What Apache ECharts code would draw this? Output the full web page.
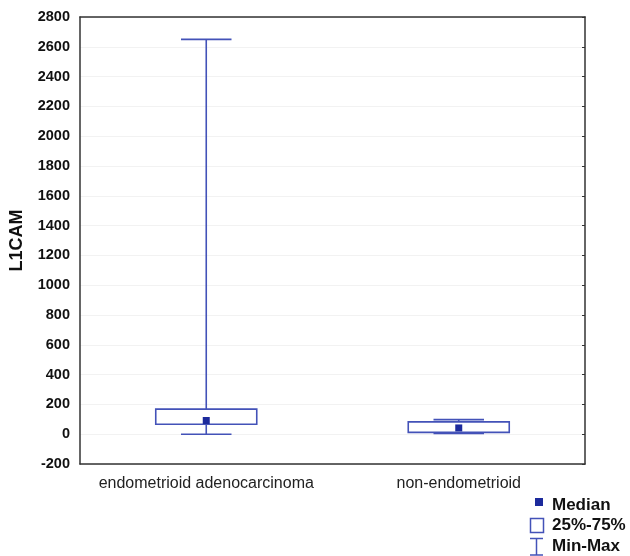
<!DOCTYPE html>
<html>
<head>
<meta charset="utf-8">
<script src="https://cdn.jsdelivr.net/npm/echarts@6/dist/echarts.min.js"></script>
<style>
    html, body { margin: 0; padding: 0; background: #fff; }
    #chart { width: 630px; height: 556px; }
</style>
</head>
<body>
<div id="chart"></div>
<script>
// values
const groups = ['endometrioid adenocarcinoma', 'non-endometrioid'];
const minVals = [0, 5];
const q1Vals = [67, 12];
const medianVals = [92, 42];
const q3Vals = [168, 83];
const maxVals = [2650, 98];

const lineColor = '#4352b8';
const medianColor = '#1c2a9c';
const frameColor = '#333';
const font = '"Liberation Sans", Arial, sans-serif';

let boxData = groups.map(function (g, i) {
    return [i, minVals[i], q1Vals[i], medianVals[i], q3Vals[i], maxVals[i]];
});
let medianData = groups.map(function (g, i) {
    return [i, medianVals[i]];
});

const renderBox = function (params, api) {
    const idx = api.value(0);
    const pMin = api.coord([idx, api.value(1)]);
    const pQ1 = api.coord([idx, api.value(2)]);
    const pQ3 = api.coord([idx, api.value(4)]);
    const pMax = api.coord([idx, api.value(5)]);
    const band = api.size([1, 0])[0];
    const halfBox = band * 0.2;
    const halfCap = band * 0.1;
    const x = pMin[0];
    const style = { stroke: lineColor, lineWidth: 1.6, fill: null };
    return {
        type: 'group',
        children: [
            { type: 'line', shape: { x1: x, y1: pMax[1], x2: x, y2: pQ3[1] }, style: style },
            { type: 'line', shape: { x1: x, y1: pQ1[1], x2: x, y2: pMin[1] }, style: style },
            { type: 'line', shape: { x1: x - halfCap, y1: pMax[1], x2: x + halfCap, y2: pMax[1] }, style: style },
            { type: 'line', shape: { x1: x - halfCap, y1: pMin[1], x2: x + halfCap, y2: pMin[1] }, style: style },
            { type: 'rect', shape: { x: x - halfBox, y: pQ3[1], width: halfBox * 2, height: pQ1[1] - pQ3[1] },
              style: { stroke: lineColor, lineWidth: 1.6, fill: 'rgba(255,255,255,0)' } }
        ]
    };
};

const legendText = function (label, y) {
    return {
        type: 'text',
        style: { x: 552, y: y, text: label, fill: '#111', font: 'bold 17px ' + font, verticalAlign: 'middle' }
    };
};

let chart = echarts.init(document.getElementById('chart'));
chart.setOption({
    animation: false,
    backgroundColor: '#fff',
    grid: { left: 79, right: 45, top: 17, bottom: 92 },
    xAxis: [{
        type: 'category',
        data: groups,
        axisLine: { onZero: false, lineStyle: { color: frameColor, width: 1.5 } },
        axisTick: { inside: true, alignWithLabel: true, length: 3, lineStyle: { color: frameColor } },
        axisLabel: { interval: 0, color: '#222', fontSize: 16, fontFamily: font, margin: 12 }
    }, {
        type: 'category',
        data: groups,
        position: 'top',
        axisLine: { onZero: false, lineStyle: { color: frameColor, width: 1.5 } },
        axisTick: { inside: true, alignWithLabel: true, length: 3, lineStyle: { color: frameColor } },
        axisLabel: { show: false }
    }],
    yAxis: [{
        type: 'value',
        min: -200,
        max: 2800,
        interval: 200,
        name: 'L1CAM',
        nameLocation: 'middle',
        nameGap: 54,
        nameTextStyle: { color: '#111', fontSize: 18, fontWeight: 'bold', fontFamily: font },
        axisLine: { show: true, onZero: false, lineStyle: { color: frameColor, width: 1.5 } },
        axisTick: { show: false },
        axisLabel: {
            color: '#111', fontSize: 14.5, fontWeight: 'bold', fontFamily: font, margin: 10,
            formatter: function (v) { return String(v); }
        },
        splitLine: { lineStyle: { color: '#f2f2f2', width: 1 } }
    }, {
        type: 'value',
        min: -200,
        max: 2800,
        interval: 200,
        position: 'right',
        axisLine: { show: true, onZero: false, lineStyle: { color: frameColor, width: 1.5 } },
        axisTick: { show: true, inside: true, length: 3, lineStyle: { color: frameColor } },
        axisLabel: { show: false },
        splitLine: { show: false }
    }],
    series: [{
        name: '25%-75%',
        type: 'custom',
        renderItem: renderBox,
        encode: { x: 0, y: [1, 2, 3, 4, 5] },
        data: boxData,
        z: 2
    }, {
        name: 'Median',
        type: 'scatter',
        symbol: 'rect',
        symbolSize: 7,
        itemStyle: { color: medianColor, opacity: 1 },
        data: medianData,
        z: 3
    }],
    graphic: [
        { type: 'rect', shape: { x: 535, y: 498, width: 8, height: 8 }, style: { fill: medianColor } },
        { type: 'rect', shape: { x: 530.5, y: 518.5, width: 13, height: 14 }, style: { fill: '#fff', stroke: lineColor, lineWidth: 1.5 } },
        { type: 'line', shape: { x1: 530, y1: 538.5, x2: 543, y2: 538.5 }, style: { stroke: lineColor, lineWidth: 1.5 } },
        { type: 'line', shape: { x1: 536.5, y1: 538.5, x2: 536.5, y2: 555 }, style: { stroke: lineColor, lineWidth: 1.5 } },
        { type: 'line', shape: { x1: 530, y1: 555, x2: 543, y2: 555 }, style: { stroke: lineColor, lineWidth: 1.5 } },
        legendText('Median', 505),
        legendText('25%-75%', 525),
        legendText('Min-Max', 546)
    ]
});
</script>
</body>
</html>
